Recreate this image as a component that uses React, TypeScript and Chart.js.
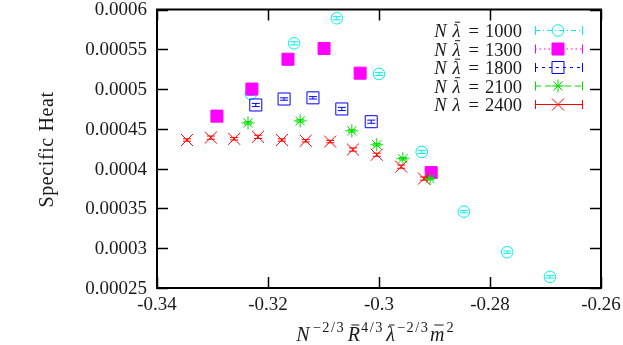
import React, { useEffect, useRef } from "react";
import { Chart, registerables } from "chart.js";

Chart.register(...registerables);

// ---------- data ----------
const seriesNames = ["1000", "1300", "1800", "2100", "2400"];

const x1000 = [-0.3231, -0.3153, -0.3076, -0.3, -0.2923, -0.2847, -0.2769, -0.2692];
const y1000 = [0.000494, 0.0005575, 0.000589, 0.000519, 0.000421, 0.000346, 0.000295, 0.000264];
const e1000 = [0.000002, 0.000002, 0.000002, 0.000002, 0.000002, 0.0000015, 0.0000015, 0.0000015];

const x1300 = [-0.3292, -0.3229, -0.3164, -0.3099, -0.3034, -0.2906];
const y1300 = [0.000466, 0.0005, 0.0005375, 0.000551, 0.00052, 0.000395];
const e1300 = [0.000002, 0.000002, 0.000002, 0.000002, 0.000002, 0.000002];

const x1800 = [-0.3222, -0.3171, -0.3119, -0.3067, -0.3014];
const y1800 = [0.00048, 0.0004875, 0.000489, 0.000475, 0.000459];
const e1800 = [0.000002, 0.0000015, 0.0000015, 0.000002, 0.000002];

const x2100 = [-0.3236, -0.3142, -0.3049, -0.3004, -0.2957, -0.2908];
const y2100 = [0.0004575, 0.00046, 0.0004475, 0.00043, 0.0004125, 0.0003875];
const e2100 = [0.0000015, 0.0000015, 0.0000015, 0.0000015, 0.0000015, 0.0000015];

const x2400 = [-0.3346, -0.3303, -0.3261, -0.3218, -0.3175, -0.3132, -0.3088, -0.3047, -0.3004, -0.296, -0.2919];
const y2400 = [0.000436, 0.000439, 0.0004375, 0.00044, 0.000436, 0.000435, 0.000434, 0.000424, 0.0004175, 0.0004025, 0.0003875];
const e2400 = [0.0000015, 0.000002, 0.0000015, 0.000002, 0.0000015, 0.0000015, 0.0000015, 0.000002, 0.000002, 0.000002, 0.000002];

const xTicks = [-0.34, -0.32, -0.3, -0.28, -0.26];
const xTickLabels = ["-0.34", "-0.32", "-0.3", "-0.28", "-0.26"];
const yTicks = [0.00025, 0.0003, 0.00035, 0.0004, 0.00045, 0.0005, 0.00055, 0.0006];
const yTickLabels = ["0.00025", "0.0003", "0.00035", "0.0004", "0.00045", "0.0005", "0.00055", "0.0006"];

const yTitle = "Specific Heat";

// ---------- styles ----------
const FONT = "'Liberation Serif', 'DejaVu Serif', serif";
const FS = 19;
const TEXT = "#1a1a1a";

const xs = [x1000, x1300, x1800, x2100, x2400];
const ys = [y1000, y1300, y1800, y2100, y2400];
const es = [e1000, e1300, e1800, e2100, e2400];

const styles = [
  { color: "#00f0f0", shape: "circle", r: 5.8, fill: false, dash: [5, 3, 1, 3], bar: true },
  { color: "#ff00ff", shape: "rect", r: 8.5, fill: true, dash: [1.5, 3], bar: true },
  { color: "#0000ff", shape: "rect", r: 8.5, fill: false, dash: [3, 4], bar: true },
  { color: "#00e000", shape: "star", r: 6.5, fill: false, dash: [6, 4], bar: true },
  { color: "#ff0000", shape: "crossRot", r: 8.5, fill: false, dash: [], bar: false },
];

type Seg = { t: string; it?: boolean; sup?: boolean; bar?: boolean; gap?: number; ls?: number };

function segFont(s: Seg, size: number) {
  const sz = s.sup ? size * 0.72 : size;
  return (s.it ? "italic " : "") + sz + "px " + FONT;
}

function segWidth(ctx: CanvasRenderingContext2D, s: Seg, size: number) {
  ctx.font = segFont(s, size);
  return ctx.measureText(s.t).width + (s.ls || 0) * (s.t.length - 1);
}

function drawSegText(ctx: CanvasRenderingContext2D, s: Seg, x: number, y: number) {
  if (!s.ls) {
    ctx.fillText(s.t, x, y);
    return;
  }
  let cx = x;
  for (const ch of s.t) {
    ctx.fillText(ch, cx, y);
    cx += ctx.measureText(ch).width + s.ls;
  }
}

function drawMath(ctx: CanvasRenderingContext2D, segs: Seg[], x: number, y: number, align: string, size: number) {
  let total = 0;
  const widths: number[] = [];
  const gw: number[] = [];
  segs.forEach((s) => {
    const w = segWidth(ctx, s, size);
    widths.push(w);
    gw.push(w + (s.gap || 0));
    total += w + (s.gap || 0);
  });
  let cx = align === "right" ? x - total : align === "center" ? x - total / 2 : x;
  ctx.textAlign = "left";
  ctx.textBaseline = "alphabetic";
  segs.forEach((s, i) => {
    ctx.font = segFont(s, size);
    const yy = s.sup ? y - size * 0.45 : y;
    drawSegText(ctx, s, cx, yy);
    if (s.bar) {
      const w = widths[i];
      ctx.save();
      ctx.lineWidth = 1;
      ctx.strokeStyle = ctx.fillStyle as string;
      ctx.beginPath();
      const by = yy - size * 0.8;
      ctx.moveTo(cx + w * 0.3, by);
      ctx.lineTo(cx + w * 0.95, by);
      ctx.stroke();
      ctx.restore();
    }
    cx += gw[i];
  });
}

function drawMarker(ctx: CanvasRenderingContext2D, st: any, x: number, y: number) {
  const r = st.r;
  ctx.save();
  ctx.strokeStyle = st.color;
  ctx.fillStyle = st.color;
  ctx.lineWidth = 1;
  ctx.setLineDash([]);
  ctx.beginPath();
  if (st.shape === "circle") {
    ctx.arc(x, y, r, 0, Math.PI * 2);
    ctx.stroke();
  } else if (st.shape === "rect") {
    const s = Math.SQRT1_2 * r;
    ctx.rect(x - s, y - s, 2 * s, 2 * s);
    if (st.fill) ctx.fill();
    ctx.stroke();
  } else if (st.shape === "star") {
    const d = Math.SQRT1_2 * r;
    ctx.moveTo(x - r, y); ctx.lineTo(x + r, y);
    ctx.moveTo(x, y - r); ctx.lineTo(x, y + r);
    ctx.moveTo(x - d, y - d); ctx.lineTo(x + d, y + d);
    ctx.moveTo(x - d, y + d); ctx.lineTo(x + d, y - d);
    ctx.stroke();
  } else {
    const d = Math.SQRT1_2 * r;
    ctx.moveTo(x - d, y - d); ctx.lineTo(x + d, y + d);
    ctx.moveTo(x - d, y + d); ctx.lineTo(x + d, y - d);
    ctx.stroke();
  }
  ctx.restore();
}

const errorBarPlugin = {
  id: "errorBars",
  afterDatasetDraw(chart: any, args: any) {
    const i = args.index;
    const st = styles[i];
    const ctx = chart.ctx as CanvasRenderingContext2D;
    const xsc = chart.scales.x;
    const ysc = chart.scales.y;
    ctx.save();
    ctx.strokeStyle = st.color;
    ctx.lineWidth = 1;
    ctx.setLineDash([]);
    xs[i].forEach((xv, j) => {
      const px = xsc.getPixelForValue(xv);
      const p1 = ysc.getPixelForValue(ys[i][j] + es[i][j]);
      const p2 = ysc.getPixelForValue(ys[i][j] - es[i][j]);
      ctx.beginPath();
      ctx.moveTo(px, p1); ctx.lineTo(px, p2);
      ctx.moveTo(px - 4, p1); ctx.lineTo(px + 4, p1);
      ctx.moveTo(px - 4, p2); ctx.lineTo(px + 4, p2);
      ctx.stroke();
    });
    ctx.restore();
  },
};

const framePlugin = {
  id: "frame",
  beforeDatasetsDraw(chart: any) {
    const ctx = chart.ctx as CanvasRenderingContext2D;
    const a = chart.chartArea;
    const xsc = chart.scales.x;
    const ysc = chart.scales.y;
    ctx.save();
    ctx.strokeStyle = "#000";
    ctx.lineWidth = 1.5;
    const TL = 11;
    ctx.beginPath();
    xTicks.forEach((v) => {
      const px = Math.round(xsc.getPixelForValue(v)) + 0.5;
      ctx.moveTo(px, a.bottom); ctx.lineTo(px, a.bottom - TL);
      ctx.moveTo(px, a.top); ctx.lineTo(px, a.top + TL);
    });
    yTicks.forEach((v) => {
      const py = Math.round(ysc.getPixelForValue(v)) + 0.5;
      ctx.moveTo(a.left, py); ctx.lineTo(a.left + TL, py);
      ctx.moveTo(a.right, py); ctx.lineTo(a.right - TL, py);
    });
    ctx.stroke();
    ctx.lineWidth = 2;
    ctx.strokeRect(a.left, a.top, a.right - a.left, a.bottom - a.top);

    ctx.fillStyle = TEXT;
    ctx.font = FS + "px " + FONT;
    ctx.textAlign = "center";
    ctx.textBaseline = "middle";
    xTicks.forEach((v, k) => {
      ctx.fillText(xTickLabels[k], xsc.getPixelForValue(v), a.bottom + 17);
    });
    ctx.textAlign = "right";
    yTicks.forEach((v, k) => {
      ctx.fillText(yTickLabels[k], a.left - 10, ysc.getPixelForValue(v) + 1);
    });

    // y title
    ctx.save();
    ctx.font = "20px " + FONT;
    ctx.translate(48, a.top + 140);
    ctx.rotate(-Math.PI / 2);
    ctx.textAlign = "center";
    ctx.textBaseline = "middle";
    (ctx as any).letterSpacing = "0.6px";
    ctx.fillText(yTitle, 0, 0);
    ctx.restore();

    // x title
    const segs: Seg[] = [
      { t: "N", it: true, gap: 3 },
      { t: "−2/3", sup: true, gap: 4, ls: 1.5 },
      { t: "R", it: true, bar: true, gap: 1 },
      { t: "4/3", sup: true, gap: 4, ls: 1.5 },
      { t: "λ", it: true, bar: true, gap: 2 },
      { t: "−2/3", sup: true, gap: 2, ls: 1.5 },
      { t: "m", it: true, bar: true, gap: 2 },
      { t: "2", sup: true },
    ];
    drawMath(ctx, segs, 375, a.bottom + 53, "center", 20);
    ctx.restore();
  },
  afterDraw(chart: any) {
    const ctx = chart.ctx as CanvasRenderingContext2D;
    const a = chart.chartArea;
    ctx.save();
    seriesNames.forEach((name, i) => {
      const st = styles[i];
      const ry = a.top + 21 + i * 18.5;
      ctx.fillStyle = TEXT;
      const segs: Seg[] = [
        { t: "N", it: true, gap: 6 },
        { t: "λ", it: true, bar: st.bar, gap: 8 },
        { t: "=", gap: 6 },
        { t: name },
      ];
      drawMath(ctx, segs, a.right - 79, ry + 6.5, "right", 18.5);
      const x0 = a.right - 66;
      const x1 = a.right - 18;
      ctx.strokeStyle = st.color;
      ctx.lineWidth = 1;
      ctx.setLineDash(st.dash);
      ctx.beginPath();
      ctx.moveTo(x0, ry); ctx.lineTo(x1, ry);
      ctx.stroke();
      ctx.setLineDash([]);
      ctx.beginPath();
      ctx.moveTo(x0 + 0.5, ry - 4.5); ctx.lineTo(x0 + 0.5, ry + 4.5);
      ctx.moveTo(x1 - 0.5, ry - 4.5); ctx.lineTo(x1 - 0.5, ry + 4.5);
      ctx.stroke();
      drawMarker(ctx, st, (x0 + x1) / 2 - 1, ry);
    });
    ctx.restore();
  },
};

export default function App() {
  const ref = useRef<HTMLCanvasElement>(null);
  useEffect(() => {
    if (!ref.current) return;
    const datasets = seriesNames.map((name, i) => {
      const st = styles[i];
      return {
        label: "Nλ = " + name,
        data: xs[i].map((xv, j) => ({ x: xv, y: ys[i][j] })),
        showLine: false,
        order: seriesNames.length - 1 - i,
        pointStyle: st.shape,
        pointRadius: st.r,
        pointHoverRadius: st.r,
        pointBorderWidth: 1,
        borderColor: st.color,
        backgroundColor: st.fill ? st.color : "rgba(0,0,0,0)",
      };
    });
    const chart = new Chart(ref.current, {
      type: "scatter",
      data: { datasets },
      options: {
        animation: false,
        responsive: true,
        maintainAspectRatio: false,
        events: [],
        layout: { padding: { left: 157, right: 22, top: 9, bottom: 57 } },
        plugins: { legend: { display: false }, tooltip: { enabled: false } },
        scales: {
          x: { type: "linear", min: -0.34, max: -0.26, display: false },
          y: { type: "linear", min: 0.00025, max: 0.0006, display: false },
        },
      },
      plugins: [framePlugin, errorBarPlugin],
    } as any);
    return () => chart.destroy();
  }, []);
  return (
    <div style={{ position: "fixed", left: 0, top: 0, width: 623, height: 345, background: "#fff" }}>
      <canvas ref={ref} />
    </div>
  );
}
